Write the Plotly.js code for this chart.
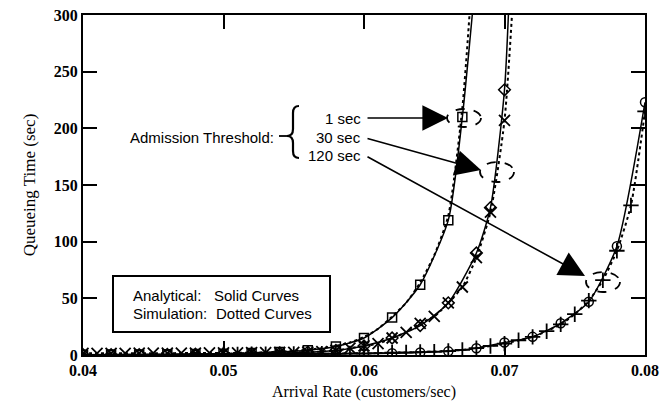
<!DOCTYPE html>
<html>
<head>
<meta charset="utf-8">
<script src="https://cdn.plot.ly/plotly-3.0.1.min.js"></script>
<style>html,body{margin:0;padding:0;background:#fff;}#chart{width:668px;height:412px;}</style>
</head>
<body>
<div id="chart"></div>
<script>
// ---- data ----
// 1 sec threshold
const oneSecAnX = [0.040,0.042,0.044,0.046,0.048,0.050,0.052,0.054,0.056,0.058,0.060,0.062,0.064,0.066,0.067,0.068];
const oneSecAnY = [0.3,0.4,0.5,0.7,0.9,1.2,1.7,2.6,4.2,7.5,15,33,62,119,210,340];
const oneSecSimX = [0.050,0.051,0.052,0.053,0.054,0.055,0.056,0.057,0.058,0.059,0.060,0.061,0.062,0.063,0.064,0.065,0.066,0.067,0.068];
const oneSecSimY = [1.0,1.4,1.9,2.5,3.0,3.6,4.6,6,8,11,16,23,34,46,64,88,123,218,390];
// 30 sec threshold
const thirtySecAnX = [0.040,0.042,0.044,0.046,0.048,0.050,0.052,0.054,0.056,0.058,0.060,0.062,0.064,0.066,0.068,0.069,0.070,0.0705];
const thirtySecAnY = [0.2,0.3,0.4,0.5,0.7,0.9,1.2,1.7,2.5,4,8,15,26,46,90,130,234,370];
const thirtySecSimX = [0.040,0.041,0.042,0.043,0.044,0.045,0.046,0.047,0.048,0.049,0.050,0.051,0.052,0.053,0.054,0.055,0.056,0.057,0.058,0.059,0.060,0.061,0.062,0.063,0.064,0.065,0.066,0.067,0.068,0.069,0.070,0.071];
const thirtySecSimY = [1.5,1.5,1.5,1.5,1.6,1.6,1.6,1.7,1.7,1.8,1.8,1.9,2.0,2.1,2.2,2.3,2.5,3,4,6,8,10,15,20,28,34,46,60,86,126,207,400];
// 120 sec threshold
const oneTwentyAnX = [0.040,0.042,0.044,0.046,0.048,0.050,0.052,0.054,0.056,0.058,0.060,0.062,0.064,0.066,0.068,0.070,0.072,0.074,0.076,0.078,0.080];
const oneTwentyAnY = [0.1,0.1,0.1,0.2,0.2,0.3,0.4,0.5,0.7,0.9,1.2,1.6,2.2,3.2,6,11,16,28,47,96,223];
const oneTwentySimX = [0.050,0.051,0.052,0.053,0.054,0.055,0.056,0.057,0.058,0.059,0.060,0.061,0.062,0.063,0.064,0.065,0.066,0.067,0.068,0.069,0.070,0.071,0.072,0.073,0.074,0.075,0.076,0.077,0.078,0.079,0.080];
const oneTwentySimY = [0.5,0.5,0.6,0.7,0.8,0.9,1.0,1.1,1.2,1.4,1.5,1.7,2.0,2.3,2.6,3.0,3.5,4.5,6,8,10,13,16,21,27,36,48,66,92,132,215];

const xTicks = [0.04,0.05,0.06,0.07,0.08];
const xTickText = ['0.04','0.05','0.06','0.07','0.08'];
const yTicks = [0,50,100,150,200,250,300];
const thresholdLabels = ['1 sec','30 sec','120 sec'];

// ---- layout helpers (pixel -> paper) ----
const P = {l:83, r:645, t:15, b:355};
const px = x => (x - P.l) / (P.r - P.l);
const py = y => (P.b - y) / (P.b - P.t);

function line(x, y, marker, dash, mline) {
  const t = {
    x: x, y: y, type: 'scatter',
    mode: marker ? 'lines+markers' : 'lines',
    line: {color: '#000', width: dash ? 2 : 1.5, dash: dash ? 'dot' : 'solid', shape: 'spline', smoothing: 0.6},
    showlegend: false, hoverinfo: 'skip'
  };
  if (marker) {
    const big = marker.indexOf('x') === 0 || marker.indexOf('cross') === 0;
    t.marker = {symbol: marker, size: big ? 11 : 9, color: '#000', line: {color: '#000', width: mline || 1.5}};
  }
  return t;
}

const traces = [
  line(oneSecAnX, oneSecAnY, 'square-open', false),
  line(oneSecSimX, oneSecSimY, null, true),
  line(thirtySecAnX, thirtySecAnY, 'diamond-open', false),
  line(thirtySecSimX, thirtySecSimY, 'x-thin-open', true, 1.8),
  line(oneTwentyAnX, oneTwentyAnY, 'circle-open', false),
  line(oneTwentySimX, oneTwentySimY, 'cross-thin-open', true, 1.8)
];

const annFont = {family: 'Liberation Sans, Arial, sans-serif', size: 15, color: '#000'};
function txt(text, x, y, anchor) {
  return {text: text, xref: 'paper', yref: 'paper', x: px(x), y: py(y),
    xanchor: anchor, yanchor: 'middle', showarrow: false, font: annFont};
}
function arrow(tx, ty, hx, hy) {
  return {text: '', xref: 'paper', yref: 'paper', x: px(hx), y: py(hy),
    ax: tx - hx, ay: ty - hy, showarrow: true, arrowhead: 2, arrowsize: 3.2,
    arrowwidth: 1.6, arrowcolor: '#000', standoff: 0, startstandoff: 0};
}
function ellipse(cx, cy, rx, ry) {
  return {type: 'circle', xref: 'paper', yref: 'paper',
    x0: px(cx - rx), x1: px(cx + rx), y0: py(cy + ry), y1: py(cy - ry),
    line: {color: '#000', width: 1.8, dash: 'dash'}};
}
function pathP(pts) {
  return pts.map(s => s[0] + ' ' + s.slice(1).map((v, i) => i % 2 === 0 ? px(v) : py(v)).join(',')).join(' ');
}

const annotations = [
  txt('Admission Threshold:', 276, 137, 'right'),
  txt(thresholdLabels[0], 363, 118, 'right'),
  txt(thresholdLabels[1], 363, 137, 'right'),
  txt(thresholdLabels[2], 363, 155, 'right'),
  arrow(366, 118, 448, 118),
  arrow(366, 138, 481, 170),
  arrow(366, 156, 585, 276),
  txt('Analytical:', 131, 295, 'left'),
  txt('Solid Curves', 212, 295, 'left'),
  txt('Simulation:', 131, 313, 'left'),
  txt('Dotted Curves', 214, 313, 'left')
];

const shapes = [
  ellipse(464, 118, 17, 9),
  ellipse(497, 172, 17, 10),
  ellipse(603, 282, 17, 10),
  {type: 'rect', xref: 'paper', yref: 'paper', x0: px(113), x1: px(330), y0: py(332), y1: py(276),
    line: {color: '#000', width: 2}, fillcolor: 'rgba(0,0,0,0)'},
  {type: 'path', xref: 'paper', yref: 'paper', line: {color: '#000', width: 2.2},
    path: pathP([['M',299,106],['Q',293,106,293,113],['L',293,129],['Q',293,136,287,136],['Q',293,136,293,143],['L',293,151],['Q',293,158,299,158]])},
  {type: 'path', xref: 'paper', yref: 'paper', line: {color: '#000', width: 1.8},
    path: pathP([['M',279,136],['L',288,136]])}
];

const tickFont = {family: 'Liberation Serif, Times New Roman, serif', size: 16, color: '#000', weight: 'bold'};
const titleFont = {family: 'Liberation Serif, Times New Roman, serif', size: 16, color: '#000'};

const layout = {
  width: 668, height: 412,
  margin: {l: P.l, r: 668 - P.r, t: P.t, b: 412 - P.b},
  paper_bgcolor: '#fff', plot_bgcolor: '#fff',
  xaxis: {range: [0.04, 0.08], tickvals: xTicks, ticktext: xTickText,
    showgrid: false, zeroline: false, showline: true, linecolor: '#000', linewidth: 2,
    mirror: 'ticks', ticks: 'inside', ticklen: 14, tickwidth: 2, tickcolor: '#000',
    tickfont: tickFont, title: {text: 'Arrival Rate (customers/sec)', font: titleFont, standoff: 8}},
  yaxis: {range: [0, 300], tickvals: yTicks,
    showgrid: false, zeroline: false, showline: true, linecolor: '#000', linewidth: 2,
    mirror: 'ticks', ticks: 'inside', ticklen: 14, tickwidth: 2, tickcolor: '#000',
    tickfont: tickFont, title: {text: 'Queueing Time (sec)', font: {family: titleFont.family, size: 17, color: '#000'}, standoff: 14}},
  annotations: annotations,
  shapes: shapes,
  showlegend: false
};

Plotly.newPlot('chart', traces, layout, {staticPlot: true, displayModeBar: false});
</script>
</body>
</html>
